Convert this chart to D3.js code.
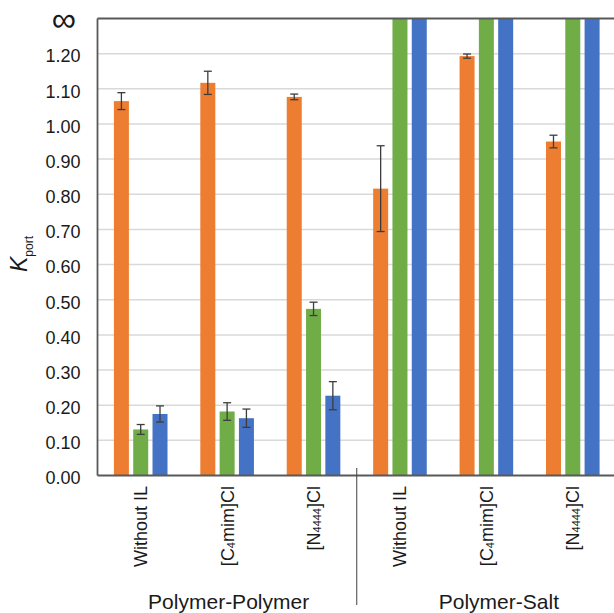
<!DOCTYPE html>
<html>
<head>
<meta charset="utf-8">
<script src="https://cdn.jsdelivr.net/npm/d3@7"></script>
<style>
  html, body { margin: 0; padding: 0; background: #fff; overflow: hidden; }
  svg { display: block; font-family: "Liberation Sans", Arial, sans-serif; }
</style>
</head>
<body>
<svg id="chart" width="614" height="613"></svg>
<script>
// Category labels; "_{..}" marks a subscript run
const categories = [
  "Without IL", "[C_{4}mim]Cl", "[N_{4444}]Cl",
  "Without IL", "[C_{4}mim]Cl", "[N_{4444}]Cl"
];
const groups = [
  { name: "Polymer-Polymer", from: 0, to: 2 },
  { name: "Polymer-Salt", from: 3, to: 5 }
];
const seriesKeys = ["orange", "green", "blue"];
const seriesColors = ["#ED7D31", "#70AD47", "#4472C4"];

// K_port values (Infinity = unbounded partition, drawn to the top of the axis)
const orangeValues = [1.065, 1.117, 1.077, 0.816, 1.193, 0.950];
const orangeErrors = [0.024, 0.033, 0.008, 0.122, 0.006, 0.018];
const greenValues  = [0.131, 0.182, 0.474, Infinity, Infinity, Infinity];
const greenErrors  = [0.014, 0.025, 0.019, null, null, null];
const blueValues   = [0.175, 0.163, 0.227, Infinity, Infinity, Infinity];
const blueErrors   = [0.023, 0.026, 0.040, null, null, null];

const yTicks = [0, 0.1, 0.2, 0.3, 0.4, 0.5, 0.6, 0.7, 0.8, 0.9, 1.0, 1.1, 1.2];
const yMax = 1.3;           // axis top, labelled as infinity
const yTopLabel = "\u221E";

const seriesValues = [orangeValues, greenValues, blueValues];
const seriesErrors = [orangeErrors, greenErrors, blueErrors];

const rows = categories.map((c, i) => ({
  index: i,
  label: c,
  bars: seriesKeys.map((k, s) => ({
    key: k, color: seriesColors[s],
    value: seriesValues[s][i], err: seriesErrors[s][i]
  }))
}));

const svg = d3.select("#chart");
const plotLeft = 97.5, plotTop = 18.5, plotBottom = 475.5, plotRight = 616;

const x0 = d3.scaleBand().domain(d3.range(categories.length)).range([plotLeft, plotRight]).padding(0);
const x1 = d3.scaleBand().domain(seriesKeys).range([-26.8, 26.8]).paddingInner(0.223);
const y = d3.scaleLinear().domain([0, yMax]).range([plotBottom, plotTop]);
const yc = v => y(Math.min(v, yMax));

// gridlines
svg.append("g")
  .selectAll("line").data(yTicks.filter(t => t > 0)).join("line")
  .attr("x1", plotLeft).attr("x2", 614)
  .attr("y1", d => y(d)).attr("y2", d => y(d))
  .attr("stroke", "#d9d9d9").attr("stroke-width", 1.5);

// y axis labels
const yAxis = d3.axisLeft(y)
  .tickValues(yTicks.concat([yMax]))
  .tickSize(0).tickPadding(17)
  .tickFormat(d => d === yMax ? yTopLabel : d3.format(".2f")(d));
const gy = svg.append("g").attr("transform", `translate(${plotLeft},0)`).call(yAxis);
gy.select(".domain").remove();
gy.selectAll("text")
  .attr("font-size", 18).attr("fill", "#1a1a1a").attr("dy", "0.46em")
  .attr("font-family", "Liberation Sans, Arial, sans-serif");
gy.selectAll(".tick").filter(d => d === yMax).select("text")
  .attr("font-size", 34).attr("dy", "0.36em").attr("x", -21.5);

// bars
const cat = svg.append("g").selectAll("g").data(rows).join("g")
  .attr("transform", d => `translate(${x0(d.index) + x0.bandwidth() / 2},0)`);

cat.selectAll("rect").data(d => d.bars).join("rect")
  .attr("x", d => x1(d.key))
  .attr("width", x1.bandwidth())
  .attr("y", d => yc(d.value))
  .attr("height", d => plotBottom - yc(d.value))
  .attr("fill", d => d.color);

// error bars
const eb = cat.selectAll("g.err").data(d => d.bars.filter(b => b.err != null && isFinite(b.value)))
  .join("g").attr("class", "err")
  .attr("transform", d => `translate(${x1(d.key) + x1.bandwidth() / 2},0)`)
  .attr("stroke", "#3d3d3d").attr("stroke-width", 1.3);
eb.append("line").attr("y1", d => y(d.value - d.err)).attr("y2", d => y(d.value + d.err));
eb.append("line").attr("x1", -4).attr("x2", 4).attr("y1", d => y(d.value + d.err)).attr("y2", d => y(d.value + d.err));
eb.append("line").attr("x1", -4).attr("x2", 4).attr("y1", d => y(d.value - d.err)).attr("y2", d => y(d.value - d.err));

// frame: left axis, baseline, top border
const axisColor = "#595959";
svg.append("line").attr("x1", plotLeft).attr("x2", plotLeft).attr("y1", plotTop).attr("y2", plotBottom)
  .attr("stroke", axisColor).attr("stroke-width", 1.8);
svg.append("line").attr("x1", plotLeft).attr("x2", 614).attr("y1", plotBottom).attr("y2", plotBottom)
  .attr("stroke", axisColor).attr("stroke-width", 1.8);
svg.append("line").attr("x1", plotLeft).attr("x2", 614).attr("y1", plotTop).attr("y2", plotTop)
  .attr("stroke", axisColor).attr("stroke-width", 1.8);

// rotated category labels with subscripts
function addRich(textSel, str, baseSize, subSize) {
  const parts = str.split(/(_\{[^}]*\})/).filter(p => p.length);
  parts.forEach(p => {
    const m = p.match(/^_\{([^}]*)\}$/);
    if (m) {
      textSel.append("tspan").attr("font-size", subSize).attr("dy", 1).text(m[1]);
    } else {
      const t = textSel.append("tspan").attr("font-size", baseSize).text(p);
      if (textSel.selectAll("tspan").size() > 1) t.attr("dy", -1);
    }
  });
}
svg.append("g").selectAll("text").data(rows).join("text")
  .attr("transform", d => `translate(${x0(d.index) + x0.bandwidth() / 2 + 6.5},486) rotate(-90)`)
  .attr("text-anchor", "end")
  .attr("fill", "#1a1a1a")
  .each(function (d) { addRich(d3.select(this), d.label, 18, 11); });

// group separator
const sepX = x0(groups[1].from);
svg.append("line").attr("x1", sepX).attr("x2", sepX).attr("y1", 468).attr("y2", 605)
  .attr("stroke", "#404040").attr("stroke-width", 1);

// group labels
const groupOffset = [1.5, 12.5];
svg.append("g").selectAll("text").data(groups).join("text")
  .attr("x", (g, i) => (x0(g.from) + x0(g.to) + x0.bandwidth()) / 2 + groupOffset[i])
  .attr("y", 609)
  .attr("text-anchor", "middle")
  .attr("font-size", 21)
  .attr("fill", "#1a1a1a")
  .text(g => g.name);

// y axis title: K_port
const yt = svg.append("text")
  .attr("transform", `translate(27,${(plotTop + plotBottom) / 2 + 7}) rotate(-90)`)
  .attr("text-anchor", "middle")
  .attr("fill", "#1a1a1a");
yt.append("tspan").attr("font-size", 23).attr("font-style", "italic").text("K");
yt.append("tspan").attr("font-size", 12).attr("dy", 6).text("port");
</script>
</body>
</html>
